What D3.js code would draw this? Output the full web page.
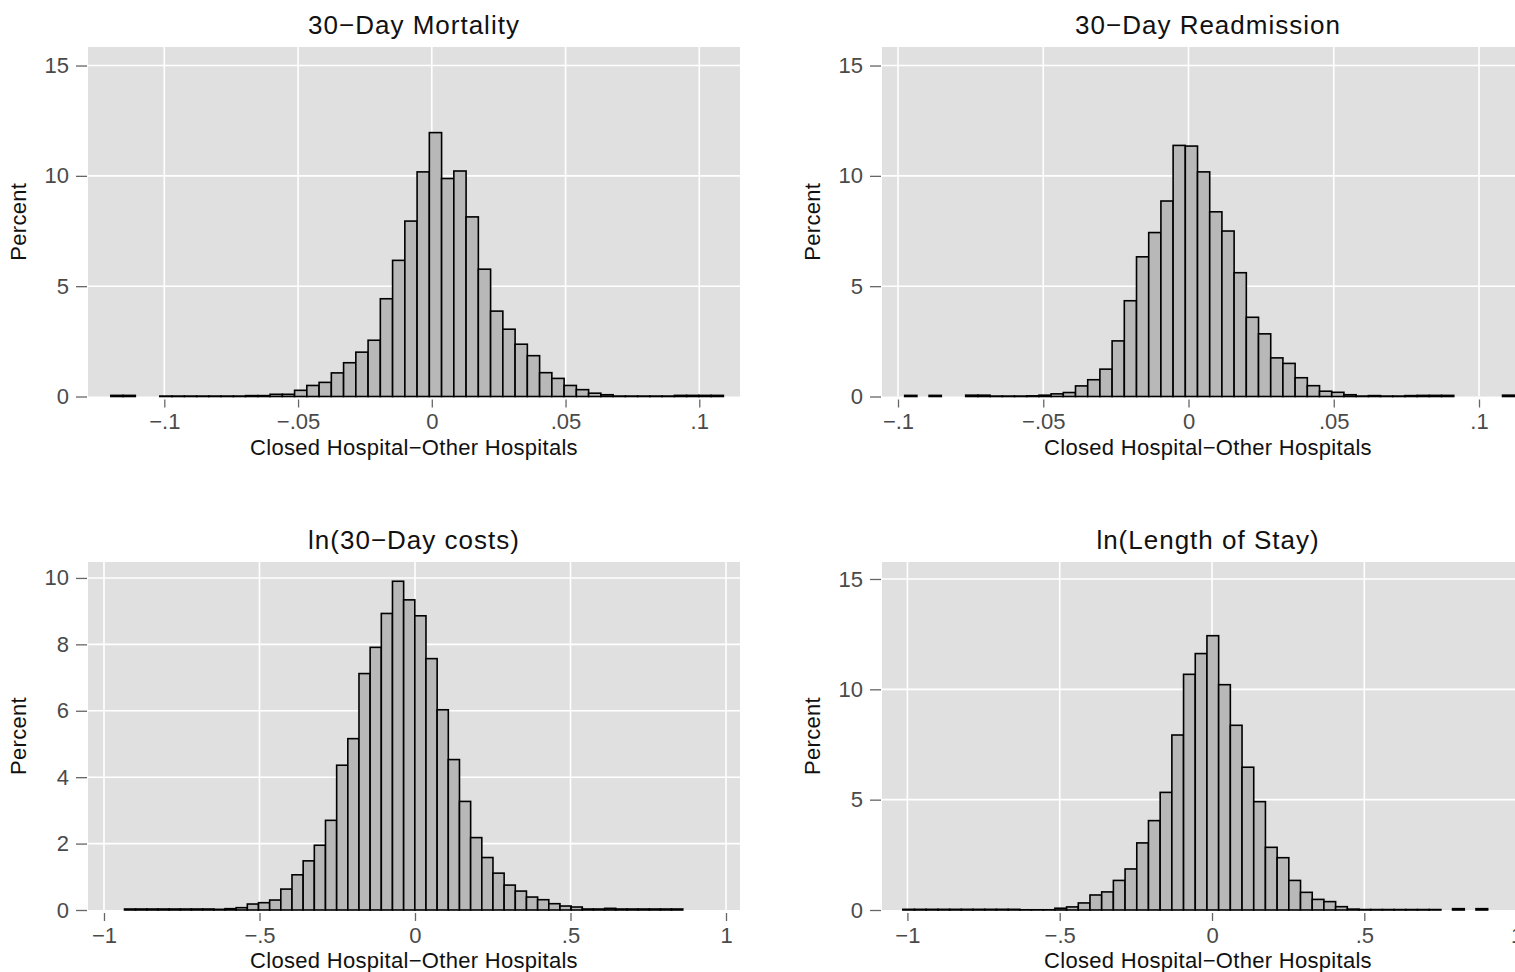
<!DOCTYPE html>
<html>
<head>
<meta charset="utf-8">
<script src="https://cdn.jsdelivr.net/npm/d3@7"></script>
<style>
  body { margin: 0; background: #fff; }
  svg { display: block; font-family: "Liberation Sans", Arial, sans-serif; }
</style>
</head>
<body>
<div id="chart"></div>
<script>
// bar heights in percent, 50 bins per histogram
const mortality = [
  0.05, 0.05, 0, 0, 0.02, 0.02, 0.02, 0.02, 0.02, 0.02,
  0.02, 0.04, 0.04, 0.1, 0.1, 0.28, 0.5, 0.64, 1.07, 1.53,
  2.01, 2.55, 4.43, 6.17, 7.95, 10.18, 11.96, 9.88, 10.22, 8.14,
  5.77, 3.87, 3.05, 2.37, 1.85, 1.08, 0.82, 0.5, 0.31, 0.15,
  0.08, 0.02, 0.02, 0.02, 0.02, 0.02, 0.05, 0.05, 0.05, 0.05
];
const readmission = [
  0.05, 0, 0.05, 0, 0, 0.06, 0.06, 0.02, 0.02, 0.02,
  0.03, 0.06, 0.12, 0.18, 0.48, 0.76, 1.24, 2.52, 4.34, 6.33,
  7.43, 8.86, 11.38, 11.35, 10.18, 8.37, 7.5, 5.61, 3.59, 2.84,
  1.75, 1.5, 0.85, 0.49, 0.24, 0.19, 0.08, 0.02, 0.04, 0.02,
  0.02, 0.04, 0.05, 0.05, 0.05, 0, 0, 0, 0, 0.06
];
const costs = [
  0.03, 0.03, 0.03, 0.03, 0.03, 0.03, 0.03, 0.03, 0.02, 0.04,
  0.07, 0.18, 0.22, 0.3, 0.63, 1.06, 1.48, 1.95, 2.7, 4.36,
  5.16, 7.12, 7.91, 8.93, 9.9, 9.34, 8.86, 7.57, 6.03, 4.53,
  3.27, 2.18, 1.58, 1.11, 0.75, 0.57, 0.39, 0.31, 0.19, 0.12,
  0.09, 0.03, 0.03, 0.05, 0.03, 0.03, 0.03, 0.03, 0.03, 0.03
];
const lengthOfStay = [
  0.03, 0.03, 0.03, 0.03, 0.03, 0.03, 0.03, 0.03, 0.03, 0.03,
  0.01, 0.01, 0.01, 0.08, 0.14, 0.32, 0.68, 0.82, 1.34, 1.86,
  3.04, 4.05, 5.33, 7.93, 10.68, 11.62, 12.43, 10.21, 8.37, 6.47,
  4.91, 2.84, 2.37, 1.34, 0.8, 0.48, 0.38, 0.15, 0.04, 0.02,
  0.02, 0.02, 0.02, 0.02, 0.02, 0.02, 0, 0.06, 0, 0.06
];

// histogram bin start and bin width
const mortalityBins = [-0.12, 0.00458];
const readmissionBins = [-0.0977, 0.0042];
const costsBins = [-0.934, 0.0359];
const lengthOfStayBins = [-1.015, 0.0384];

const titles = ["30−Day Mortality", "30−Day Readmission", "ln(30−Day costs)", "ln(Length of Stay)"];
const xTitle = "Closed Hospital−Other Hospitals";
const yTitle = "Percent";

const rateTicks = [-0.1, -0.05, 0, 0.05, 0.1];
const rateTickLabels = ["−.1", "−.05", "0", ".05", ".1"];
const logTicks = [-1, -0.5, 0, 0.5, 1];
const logTickLabels = ["−1", "−.5", "0", ".5", "1"];
const pctTicks15 = [0, 5, 10, 15];
const pctTicks10 = [0, 2, 4, 6, 8, 10];

const width = 1515, height = 972;

const svg = d3.select("#chart")
  .append("svg")
    .attr("width", width)
    .attr("height", height);

svg.append("rect")
  .attr("width", width)
  .attr("height", height)
  .attr("fill", "#fff");

// panel frames (plot area boxes) and axis ranges
const panels = [
  { title: titles[0], values: mortality, bins: mortalityBins,
    box: [88, 740, 47, 396.5], xDomain: [-0.12853, 0.11522], yTop: 15.84,
    xTicks: rateTicks, xLabels: rateTickLabels, yTicks: pctTicks15 },
  { title: titles[1], values: readmission, bins: readmissionBins,
    box: [882, 1534, 47, 396.5], xDomain: [-0.10551, 0.11893], yTop: 15.84,
    xTicks: rateTicks, xLabels: rateTickLabels, yTicks: pctTicks15 },
  { title: titles[2], values: costs, bins: costsBins,
    box: [88, 740, 562, 910], xDomain: [-1.0514, 1.045], yTop: 10.48,
    xTicks: logTicks, xLabels: logTickLabels, yTicks: pctTicks10 },
  { title: titles[3], values: lengthOfStay, bins: lengthOfStayBins,
    box: [882, 1534, 562, 910], xDomain: [-1.0834, 1.0571], yTop: 15.77,
    xTicks: logTicks, xLabels: logTickLabels, yTicks: pctTicks15 }
];

panels.forEach(drawPanel);

function drawPanel(p) {
  const [left, right, top, bottom] = p.box;
  const x = d3.scaleLinear().domain(p.xDomain).range([left, right]);
  const y = d3.scaleLinear().domain([0, p.yTop]).range([bottom, top]);

  const g = svg.append("g");

  // grey plot background
  g.append("rect")
    .attr("x", left)
    .attr("y", top)
    .attr("width", right - left)
    .attr("height", bottom - top)
    .attr("fill", "#e0e0e0");

  // white grid
  g.append("g")
    .attr("stroke", "#fff")
    .attr("stroke-width", 1.6)
    .selectAll("line")
    .data(p.yTicks.filter(d => d > 0))
    .join("line")
      .attr("x1", left)
      .attr("x2", right)
      .attr("y1", d => y(d))
      .attr("y2", d => y(d));

  g.append("g")
    .attr("stroke", "#fff")
    .attr("stroke-width", 1.6)
    .selectAll("line")
    .data(p.xTicks)
    .join("line")
      .attr("x1", d => x(d))
      .attr("x2", d => x(d))
      .attr("y1", top)
      .attr("y2", bottom);

  // bars
  const [start, w] = p.bins;
  const bars = p.values
    .map((v, i) => ({ x0: start + i * w, x1: start + (i + 1) * w, v: v }))
    .filter(d => d.v > 0);

  g.append("g")
    .attr("fill", "#b8b8b8")
    .attr("stroke", "#000")
    .attr("stroke-width", 1.6)
    .selectAll("rect")
    .data(bars)
    .join("rect")
      .attr("x", d => x(d.x0))
      .attr("y", d => y(d.v))
      .attr("width", d => x(d.x1) - x(d.x0))
      .attr("height", d => y(0) - y(d.v));

  // y axis: ticks outside the box, no domain line
  const yAxis = d3.axisLeft(y)
    .tickValues(p.yTicks)
    .tickFormat(d3.format("d"))
    .tickSize(11)
    .tickPadding(7);
  const ya = g.append("g")
    .attr("transform", `translate(${left - 1},0)`)
    .call(yAxis);
  ya.select(".domain").remove();
  ya.selectAll("line").attr("stroke", "#666").attr("stroke-width", 1.3);
  ya.selectAll("text")
    .attr("fill", "#4a4a4a")
    .style("font-size", "22px")
    .style("font-family", "Liberation Sans, Arial, sans-serif");

  // x axis
  const xAxis = d3.axisBottom(x)
    .tickValues(p.xTicks)
    .tickFormat((d, i) => p.xLabels[i])
    .tickSize(8)
    .tickPadding(6);
  const xa = g.append("g")
    .attr("transform", `translate(0,${bottom + 3})`)
    .call(xAxis);
  xa.select(".domain").remove();
  xa.selectAll("line").attr("stroke", "#666").attr("stroke-width", 1.3);
  xa.selectAll("text")
    .attr("fill", "#4a4a4a")
    .style("font-size", "22px")
    .style("font-family", "Liberation Sans, Arial, sans-serif");

  // titles
  g.append("text")
    .attr("x", (left + right) / 2)
    .attr("y", top - 13)
    .attr("text-anchor", "middle")
    .attr("fill", "#111")
    .style("font-size", "26px")
    .style("letter-spacing", "1px")
    .text(p.title);

  g.append("text")
    .attr("x", (left + right) / 2)
    .attr("y", bottom + 58)
    .attr("text-anchor", "middle")
    .attr("fill", "#111")
    .style("font-size", "22px")
    .style("letter-spacing", "0.3px")
    .text(xTitle);

  g.append("text")
    .attr("transform", `translate(${left - 62},${(top + bottom) / 2}) rotate(-90)`)
    .attr("text-anchor", "middle")
    .attr("fill", "#111")
    .style("font-size", "22px")
    .style("letter-spacing", "0.3px")
    .text(yTitle);
}
</script>
</body>
</html>
